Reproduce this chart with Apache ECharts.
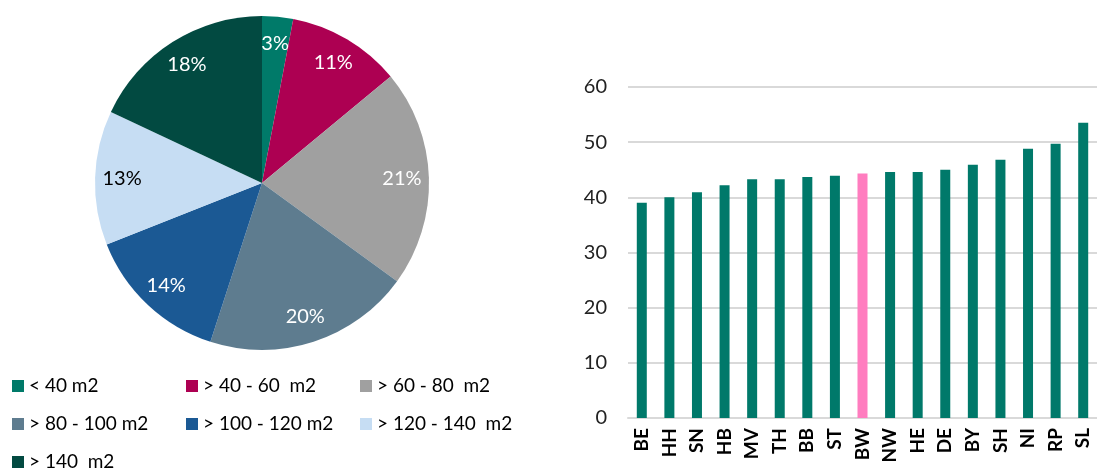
<!DOCTYPE html>
<html>
<head>
<meta charset="utf-8">
<script src="https://cdn.jsdelivr.net/npm/echarts@6/dist/echarts.min.js"></script>
<style>
  html, body { margin: 0; padding: 0; background: #fff; }
  #chart { width: 1097px; height: 469px; }
</style>
</head>
<body>
<div id="chart"></div>
<script>
  // pie: share by living space
  const sizeClasses = ['< 40 m2', '> 40 - 60  m2', '> 60 - 80  m2', '> 80 - 100 m2', '> 100 - 120 m2', '> 120 - 140  m2', '> 140  m2']
  const sizeShares = [3, 11, 21, 20, 14, 13, 18]
  const sizeColors = ['#007a69', '#ad0052', '#a0a0a0', '#5e7c8f', '#1b5994', '#c6ddf3', '#024a41']
  const labelColors = ['#fff', '#fff', '#fff', '#fff', '#fff', '#000', '#fff']

  // bars: states
  const states = ['BE', 'HH', 'SN', 'HB', 'MV', 'TH', 'BB', 'ST', 'BW', 'NW', 'HE', 'DE', 'BY', 'SH', 'NI', 'RP', 'SL']
  const stateValues = [39.0, 40.0, 40.9, 42.2, 43.3, 43.3, 43.7, 43.9, 44.3, 44.6, 44.6, 45.0, 45.9, 46.8, 48.8, 49.7, 53.5]
  const highlight = 'BW'

  const font = 'Lato, "Open Sans", sans-serif'

  let chart = echarts.init(document.getElementById('chart'))
  chart.setOption({
    animation: false,
    textStyle: { fontFamily: font },
    legend: {
      left: 12,
      top: 367,
      width: 540,
      padding: 0,
      itemWidth: 12,
      itemHeight: 12,
      itemGap: 0,
      icon: 'rect',
      data: sizeClasses,
      textStyle: { fontSize: 19, color: '#000', width: 157, lineHeight: 38 }
    },
    grid: { left: 628, right: -7, top: 87, bottom: 51 },
    xAxis: {
      type: 'category',
      data: states,
      axisLine: { lineStyle: { color: '#d9d9d9', width: 2 } },
      axisTick: { show: false },
      axisLabel: { rotate: 90, interval: 0, margin: 10, fontSize: 19, fontWeight: 'bold', color: '#000' }
    },
    yAxis: {
      type: 'value',
      min: 0,
      max: 60,
      interval: 10,
      axisLine: { show: false },
      axisTick: { show: false },
      axisLabel: { fontSize: 20, color: '#222', margin: 21 },
      splitLine: { lineStyle: { color: '#d9d9d9', width: 2 } }
    },
    series: [
      {
        type: 'pie',
        center: [262, 183],
        radius: 167,
        startAngle: 90,
        clockwise: true,
        label: { show: false },
        labelLine: { show: false },
        data: sizeClasses.map((name, i) => ({ name: name, value: sizeShares[i], itemStyle: { color: sizeColors[i] } }))
      },
      {
        // label ring, sits over the pie, only carries the percent labels
        type: 'pie',
        center: [262, 183],
        radius: [107, 167],
        startAngle: 90,
        clockwise: true,
        silent: true,
        legendHoverLink: false,
        itemStyle: { color: 'rgba(0,0,0,0)' },
        label: { show: true, position: 'inside', fontSize: 20, formatter: '{c}%' },
        labelLine: { show: false },
        data: sizeClasses.map((name, i) => ({
          name: name + ' ',
          value: sizeShares[i],
          label: { color: labelColors[i] }
        }))
      },
      {
        type: 'bar',
        barWidth: 10,
        data: states.map((s, i) => ({
          value: stateValues[i],
          itemStyle: { color: s === highlight ? '#ff7dbf' : '#00796a' }
        }))
      }
    ]
  })
</script>
</body>
</html>
